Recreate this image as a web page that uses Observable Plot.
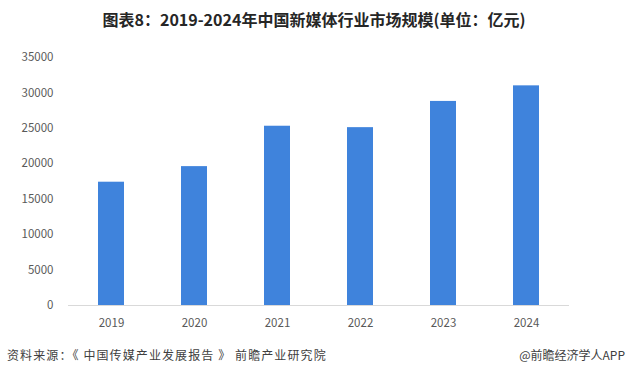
<!DOCTYPE html>
<html>
<head>
<meta charset="utf-8">
<script src="https://cdn.jsdelivr.net/npm/d3@7"></script>
<script src="https://cdn.jsdelivr.net/npm/@observablehq/plot@0.6"></script>
<style>
  html, body { margin: 0; padding: 0; background: #fff; }
  #wrap { position: relative; width: 628px; height: 379px; overflow: hidden; background: #fff;
          font-family: "Noto Sans CJK SC", "Noto Sans", sans-serif; }
  #title { position: absolute; left: 0; top: 8px; width: 628px; text-align: center;
           font-size: 16px; font-weight: bold; color: #262626; line-height: 22px; }
  #chart { position: absolute; left: 0; top: 40px; }
  #src { position: absolute; left: 7px; top: 347px; font-size: 12px; color: #404040;
         letter-spacing: 1.1px; line-height: 16px; white-space: pre; }
  #app { position: absolute; right: 3px; top: 347px; font-size: 12px; color: #404040;
         line-height: 16px; white-space: nowrap; }
</style>
</head>
<body>
<div id="wrap">
  <div id="title">图表8：2019-2024年中国新媒体行业市场规模(单位：亿元)</div>
  <div id="chart"></div>
  <div id="src">资料来源：《 中国传媒产业发展报告 》 前瞻产业研究院</div>
  <div id="app">@前瞻经济学人APP</div>
</div>
<script>
const years = ["2019", "2020", "2021", "2022", "2023", "2024"];
const values = [17400, 19600, 25300, 25100, 28800, 31000];
const yTicks = [0, 5000, 10000, 15000, 20000, 25000, 30000, 35000];

const data = years.map((year, i) => ({year, value: values[i]}));

const chart = Plot.plot({
  width: 628,
  height: 300,
  marginLeft: 68,
  marginRight: 59,
  marginTop: 17,
  marginBottom: 35,
  style: {fontFamily: "'Noto Sans CJK SC', 'Noto Sans', sans-serif", fontSize: "11.5px", color: "#595959", background: "transparent"},
  x: {domain: years, paddingInner: 0.69, paddingOuter: 0.345, label: null},
  y: {domain: [0, 35000], label: null},
  marks: [
    Plot.barY(data, {x: "year", y: "value", fill: "#3F83DC"}),
    Plot.ruleY([0], {stroke: "#d9d9d9", strokeWidth: 1}),
    Plot.axisY({ticks: yTicks, tickSize: 0, tickPadding: 15, tickFormat: d => String(d), label: null}),
    Plot.axisX({tickSize: 0, tickPadding: 13, label: null})
  ]
});
document.getElementById("chart").appendChild(chart);
</script>
</body>
</html>
